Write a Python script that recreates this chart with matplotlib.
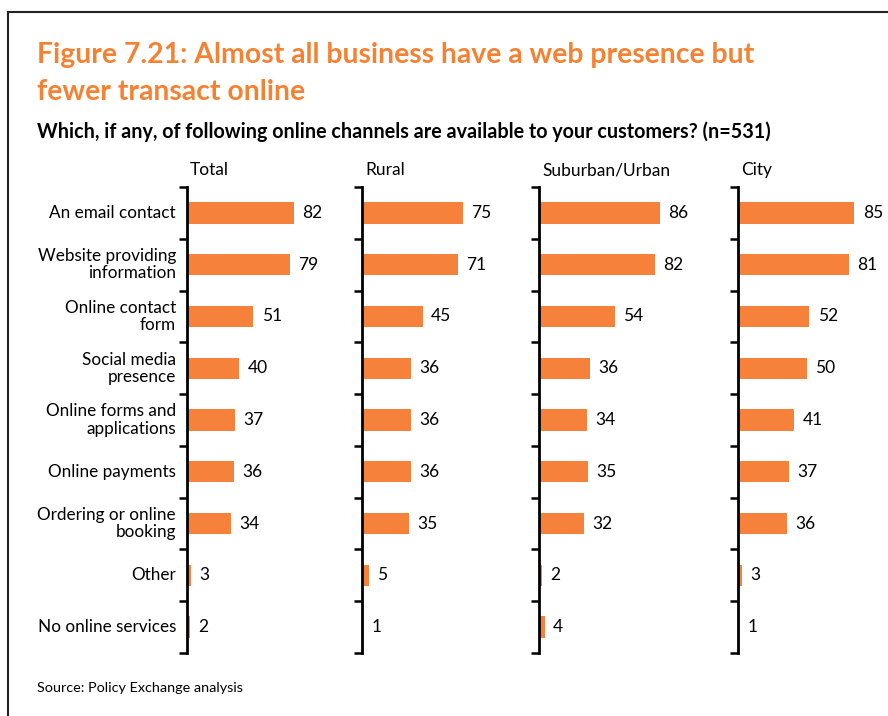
import matplotlib.pyplot as plt

categories = [
    "An email contact",
    "Website providing\ninformation",
    "Online contact\nform",
    "Social media\npresence",
    "Online forms and\napplications",
    "Online payments",
    "Ordering or online\nbooking",
    "Other",
    "No online services",
]
panel_names = ["Total", "Rural", "Suburban/Urban", "City"]
total = [82, 79, 51, 40, 37, 36, 34, 3, 2]
rural = [75, 71, 45, 36, 36, 36, 35, 5, 1]
suburban = [86, 82, 54, 36, 34, 35, 32, 2, 4]
city = [85, 81, 52, 50, 41, 37, 36, 3, 1]

ORANGE = "#F5813A"
TITLE_ORANGE = "#F58232"
FONT = ["Lato", "DejaVu Sans"]

W, H = 888, 716
plt.rcParams["font.family"] = FONT
fig = plt.figure(figsize=(W / 100, H / 100), dpi=100)


def px_axes(x, y, w, h):
    return fig.add_axes([x / W, 1 - (y + h) / H, w / W, h / H])


# frame lines along the left and top edges
fig.add_artist(plt.Line2D([8 / W, 8 / W], [0, 1 - 12 / H], color="#222222", lw=1.5))
fig.add_artist(plt.Line2D([8 / W, 1], [1 - 12 / H, 1 - 12 / H], color="#222222", lw=1.5))

fig.text(37 / W, 1 - 55 / H, "Figure 7.21: Almost all business have a web presence but",
         color=TITLE_ORANGE, fontsize=20.4, fontweight="bold", va="center")
fig.text(37 / W, 1 - 92 / H, "fewer transact online",
         color=TITLE_ORANGE, fontsize=20.4, fontweight="bold", va="center")
fig.text(37 / W, 1 - 132 / H,
         "Which, if any, of following online channels are available to your customers? (n=531)",
         fontsize=14.2, fontweight="bold", va="center")
fig.text(37 / W, 1 - 688 / H, "Source: Policy Exchange analysis", fontsize=10.4, va="center")

# (axis x position in px, px per percentage point)
layout = [(187, 1.30), (362, 1.35), (539, 1.41), (738, 1.37)]
series = [total, rural, suburban, city]
top, bottom = 187, 653
n = len(categories)

for i, (name, vals, (x0, scale)) in enumerate(zip(panel_names, series, layout)):
    ax = px_axes(x0, top, 100 * scale, bottom - top)
    ax.set_xlim(0, 100)
    ax.set_ylim(n - 0.5, -0.5)
    ax.barh(range(n), vals, height=0.41, color=ORANGE)
    for j, v in enumerate(vals):
        ax.annotate(str(v), (v, j), xytext=(6, 0), textcoords="offset points",
                    va="center", ha="left", fontsize=12.5)
    for s in ["top", "right", "bottom"]:
        ax.spines[s].set_visible(False)
    ax.spines["left"].set_linewidth(2)
    ax.set_xticks([])
    ax.set_yticks([k - 0.5 for k in range(n + 1)])
    ax.set_yticklabels([])
    ax.tick_params(axis="y", direction="out", length=6, width=1.8)
    ax.set_facecolor("none")
    fig.text((x0 + 3) / W, 1 - 170 / H, name, fontsize=12.5, va="center", ha="left")
    if i == 0:
        for j, c in enumerate(categories):
            ax.annotate(c, (0, j), xytext=(-8, 0), textcoords="offset points",
                        ha="right", va="center", fontsize=12.3, multialignment="right",
                        linespacing=1.1)

fig.savefig("out.png", dpi=100)
